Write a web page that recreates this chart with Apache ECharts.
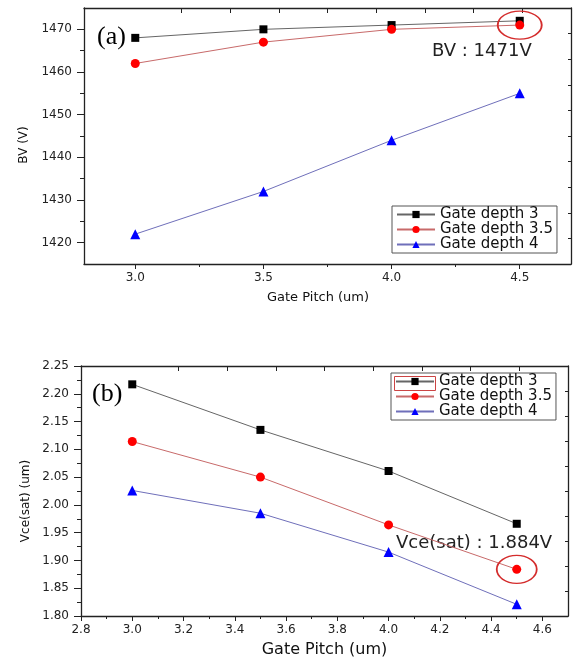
<!DOCTYPE html>
<html lang="en">
<head>
    <meta charset="UTF-8">
    <title>BV / Vce(sat) vs Gate Pitch</title>
    <style>
        html, body { margin: 0; padding: 0; background: #fff; }
    </style>
</head>
<body>
<div id="main" style="width: 580px;height:659px;"></div>

<script src="https://cdn.jsdelivr.net/npm/echarts@6/dist/echarts.min.js"></script>
<script>
    // x values shared by both panels
    var pitch = [3.0, 3.5, 4.0, 4.5];
    var seriesNames = ['Gate depth 3', 'Gate depth 3.5', 'Gate depth 4'];

    // (a) breakdown voltage
    var bvDepth3 = [1468, 1470, 1471, 1472];
    var bvDepth35 = [1462, 1467, 1470, 1471];
    var bvDepth4 = [1422, 1432, 1444, 1455];

    // (b) Vce(sat)
    var vceDepth3 = [2.217, 2.135, 2.061, 1.966];
    var vceDepth35 = [2.114, 2.050, 1.964, 1.884];
    var vceDepth4 = [2.026, 1.985, 1.915, 1.821];

    // tick positions
    var bvXMajor = [3.0, 3.5, 4.0, 4.5];
    var bvXMinor = [3.25, 3.75, 4.25];
    var bvYMajor = [1420, 1430, 1440, 1450, 1460, 1470];
    var bvYMinor = [1425, 1435, 1445, 1455, 1465];
    var bvTopTicks = [3.18, 3.37, 3.56, 3.75, 3.94, 4.13, 4.32, 4.51];
    var bvRightTicks = [1421, 1427, 1433, 1439, 1445, 1451, 1457, 1463, 1469];

    var vceXMajor = [2.8, 3.0, 3.2, 3.4, 3.6, 3.8, 4.0, 4.2, 4.4, 4.6];
    var vceXMinor = [2.9, 3.1, 3.3, 3.5, 3.7, 3.9, 4.1, 4.3, 4.5];
    var vceYMajor = [1.80, 1.85, 1.90, 1.95, 2.00, 2.05, 2.10, 2.15, 2.20, 2.25];
    var vceYMinor = [1.825, 1.875, 1.925, 1.975, 2.025, 2.075, 2.125, 2.175, 2.225];
    var vceTopTicks = [3.18, 3.37, 3.56, 3.75, 3.94, 4.13, 4.32, 4.51];
    var vceRightTicks = [1.845, 1.89, 1.935, 1.98, 2.025, 2.07, 2.115, 2.16, 2.205];

    var FONT = 'DejaVu Sans';
    var AXIS_COLOR = '#222';

    function pairs(ys) {
        return pitch.map(function (x, i) { return [x, ys[i]]; });
    }

    // one labelled axis + a minor-tick overlay + a mirrored axis on the opposite side
    function makeX(g, min, max, major, minor, mirror, digits, name, nameSize, nameGap, namePad) {
        var base = { type: 'value', gridIndex: g, min: min, max: max, splitLine: { show: false } };
        return [
            Object.assign({}, base, {
                position: 'bottom',
                name: name, nameLocation: 'middle', nameGap: nameGap,
                nameTextStyle: { fontFamily: FONT, fontSize: nameSize, color: '#111', padding: namePad },
                axisLine: { show: true, onZero: false, lineStyle: { color: AXIS_COLOR, width: 1.3 } },
                axisTick: { show: true, inside: false, length: 5, customValues: major, lineStyle: { color: AXIS_COLOR } },
                axisLabel: {
                    customValues: major, margin: 8, fontFamily: FONT, fontSize: 12, color: '#222',
                    formatter: function (v) { return v.toFixed(digits); }
                }
            }),
            Object.assign({}, base, {
                position: 'bottom',
                axisLine: { show: false, onZero: false },
                axisTick: { show: true, inside: false, length: 3, customValues: minor, lineStyle: { color: AXIS_COLOR } },
                axisLabel: { show: false }
            }),
            Object.assign({}, base, {
                position: 'top',
                axisLine: { show: true, onZero: false, lineStyle: { color: AXIS_COLOR, width: 1.3 } },
                axisTick: { show: true, inside: true, length: 5, customValues: mirror, lineStyle: { color: AXIS_COLOR } },
                axisLabel: { show: false }
            })
        ];
    }

    function makeY(g, min, max, major, minor, mirror, digits, name, nameGap, namePad) {
        var base = { type: 'value', gridIndex: g, min: min, max: max, splitLine: { show: false } };
        return [
            Object.assign({}, base, {
                position: 'left',
                name: name, nameLocation: 'middle', nameGap: nameGap,
                nameTextStyle: { fontFamily: FONT, fontSize: 12, color: '#111', padding: namePad },
                axisLine: { show: true, onZero: false, lineStyle: { color: AXIS_COLOR, width: 1.3 } },
                axisTick: { show: true, inside: false, length: 7, customValues: major, lineStyle: { color: AXIS_COLOR } },
                axisLabel: {
                    customValues: major, margin: 12, fontFamily: FONT, fontSize: 12, color: '#222',
                    formatter: function (v) { return v.toFixed(digits); }
                }
            }),
            Object.assign({}, base, {
                position: 'left',
                axisLine: { show: false, onZero: false },
                axisTick: { show: true, inside: false, length: 4, customValues: minor, lineStyle: { color: AXIS_COLOR } },
                axisLabel: { show: false }
            }),
            Object.assign({}, base, {
                position: 'right',
                axisLine: { show: true, onZero: false, lineStyle: { color: AXIS_COLOR, width: 1.3 } },
                axisTick: { show: true, inside: true, length: 3, customValues: mirror, lineStyle: { color: AXIS_COLOR } },
                axisLabel: { show: false }
            })
        ];
    }

    function lineSeries(name, data, axisIdx, kind) {
        var styles = {
            black: { symbol: 'rect', size: 8, color: '#000', line: '#666' },
            red: { symbol: 'circle', size: 9, color: '#f00', line: '#c86a6a' },
            blue: { symbol: 'triangle', size: 10, color: '#00f', line: '#6f6fba' }
        };
        var s = styles[kind];
        return {
            name: name,
            type: 'line',
            xAxisIndex: axisIdx,
            yAxisIndex: axisIdx,
            data: data,
            symbol: s.symbol,
            symbolSize: s.size,
            showAllSymbol: true,
            itemStyle: { color: s.color },
            lineStyle: { color: s.line, width: 1 },
            z: 3
        };
    }

    function ringMark(coord, size) {
        return {
            symbol: 'circle',
            symbolSize: size,
            silent: true,
            label: { show: false },
            itemStyle: { color: 'rgba(0,0,0,0)', borderColor: '#d42c2c', borderWidth: 1.5 },
            data: [{ coord: coord }]
        };
    }

    function makeLegend(left, top) {
        return {
            orient: 'vertical',
            left: left,
            top: top,
            itemWidth: 38,
            itemHeight: 9,
            itemGap: 0,
            padding: [1, 4, 1, 4],
            borderColor: '#555',
            borderWidth: 1,
            borderRadius: 0,
            backgroundColor: '#fff',
            selectedMode: false,
            textStyle: { fontFamily: FONT, fontSize: 15, color: '#111', lineHeight: 15 },
            data: seriesNames
        };
    }

    var topSeries = [
        lineSeries(seriesNames[0], pairs(bvDepth3), 0, 'black'),
        lineSeries(seriesNames[1], pairs(bvDepth35), 0, 'red'),
        lineSeries(seriesNames[2], pairs(bvDepth4), 0, 'blue')
    ];
    topSeries[1].markPoint = ringMark([4.5, 1471], [44, 28]);

    var bottomSeries = [
        lineSeries(seriesNames[0], pairs(vceDepth3), 3, 'black'),
        lineSeries(seriesNames[1], pairs(vceDepth35), 3, 'red'),
        lineSeries(seriesNames[2], pairs(vceDepth4), 3, 'blue')
    ];
    bottomSeries[1].markPoint = ringMark([4.5, 1.884], [40, 28]);

    var myChart = echarts.init(document.getElementById('main'), null, { renderer: 'canvas' });

    var option = {
        animation: false,
        backgroundColor: '#fff',
        grid: [
            { left: 84, top: 8, width: 487, height: 256 },
            { left: 81, top: 366, width: 487, height: 252 }
        ],
        xAxis: makeX(0, 2.8, 4.7, bvXMajor, bvXMinor, bvTopTicks, 1, 'Gate Pitch (um)', 13, 27, [0, 19, 0, 0])
            .concat(makeX(1, 2.8, 4.7, vceXMajor, vceXMinor, vceTopTicks, 1, 'Gate Pitch (um)', 16, 26, 0)),
        yAxis: makeY(0, 1415, 1475, bvYMajor, bvYMinor, bvRightTicks, 0, 'BV (V)', 54, [0, 18, 0, 0])
            .concat(makeY(1, 1.80, 2.25, vceYMajor, vceYMinor, vceRightTicks, 2, 'Vce(sat) (um)', 49, [0, 20, 0, 0])),
        legend: [makeLegend(392, 206), makeLegend(391, 373)],
        graphic: [
            { type: 'text', left: 97, top: 24, style: { text: '(a)', font: '26px "Liberation Serif"', fill: '#000' } },
            { type: 'text', left: 432, top: 42, style: { text: 'BV : 1471V', font: '18px "DejaVu Sans"', fill: '#222' } },
            { type: 'text', left: 92, top: 381, style: { text: '(b)', font: '26px "Liberation Serif"', fill: '#000' } },
            { type: 'text', left: 396, top: 534, style: { text: 'Vce(sat) : 1.884V', font: '18px "DejaVu Sans"', fill: '#222' } },
            {
                type: 'rect', left: 392, top: 374, z: 100,
                shape: { width: 41, height: 14 },
                style: { fill: 'none', stroke: '#c44', lineWidth: 1 }
            }
        ],
        series: topSeries.concat(bottomSeries)
    };

    myChart.setOption(option);
</script>
</body>
</html>
